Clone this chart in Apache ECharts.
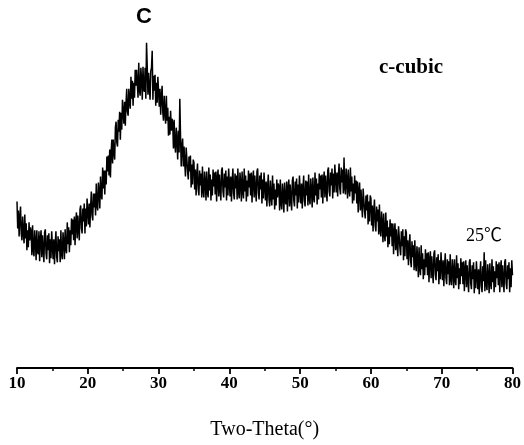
<!DOCTYPE html>
<html>
<head>
<meta charset="utf-8">
<script src="https://cdn.jsdelivr.net/npm/echarts@6/dist/echarts.min.js"></script>
<style>html,body{margin:0;padding:0;background:#fff}#c{width:524px;height:445px}</style>
</head>
<body>
<div id="c"></div>
<script>
// Two-Theta start / step (degrees) and intensity (a.u.)
var thetaStart = 10;
var thetaStep = 0.1;
var intensity = [
167,140,158,132,150,162,135,128,152,136,
125,154,130,145,118,138,121,146,128,141,
137,113,143,119,112,138,127,108,138,117,
114,137,107,129,138,111,133,118,106,136,
139,115,109,133,118,135,105,129,110,137,
135,109,129,104,124,137,112,106,132,117,
129,106,138,114,109,136,126,109,139,120,
115,146,124,141,116,138,123,150,134,149,
128,152,123,146,156,130,153,139,128,159,
163,140,135,160,147,165,135,160,142,170,
169,144,165,141,162,177,153,148,175,161,
175,153,185,163,158,186,177,160,192,173,
169,201,180,198,174,198,184,212,197,213,
193,219,191,217,229,205,229,217,209,241,
247,226,222,249,237,257,229,256,239,269,
269,245,267,243,265,280,257,253,280,267,
260,292,270,288,263,286,271,299,283,299,
298,271,306,279,273,301,289,269,302,280,
277,301,270,326,302,274,296,280,269,298,
301,318,269,293,278,294,263,286,266,292,
290,262,280,254,272,283,256,248,273,256,
245,273,248,261,233,252,234,258,238,250,
245,220,249,224,216,241,229,209,238,216,
270,233,202,223,230,202,222,205,192,221,
222,197,189,212,197,213,181,204,184,209,
206,179,199,173,193,205,179,173,198,183,
195,171,202,178,171,197,186,168,197,177,
171,201,178,194,168,189,173,199,182,196,
174,197,167,190,199,172,194,179,168,198,
201,177,171,195,181,198,168,192,173,200,
198,172,192,167,187,200,175,169,195,180,
193,169,200,176,170,196,185,167,197,177,
170,200,177,193,167,188,172,198,181,195,
173,196,166,189,198,171,193,178,167,197,
200,176,169,193,179,196,165,189,170,196,
194,168,187,162,181,194,169,162,188,172,
163,193,169,185,159,179,163,189,171,185,
182,158,189,165,159,185,174,156,186,167,
164,187,157,180,189,162,184,169,158,188,
192,168,162,187,173,190,160,184,166,193,
191,165,185,160,180,193,168,162,188,173,
187,163,194,170,164,190,179,161,191,171,
166,196,173,190,164,185,169,195,179,193,
171,194,165,188,197,171,193,178,167,198,
201,177,172,196,183,200,170,195,176,204,
202,176,196,172,192,205,180,174,201,186,
199,175,211,181,174,200,188,170,199,179,
172,201,177,192,165,185,168,193,175,188,
165,187,156,178,186,158,179,163,151,180,
182,157,150,173,158,174,144,167,147,173,
170,143,163,137,157,169,143,137,162,147,
159,134,164,139,132,157,145,126,155,134,
127,156,132,148,121,141,124,149,132,145,
122,145,114,137,145,118,139,124,112,142,
144,120,113,137,122,139,108,132,112,139,
136,109,128,103,122,134,108,101,127,111,
123,98,128,104,97,122,110,91,121,100,
93,123,99,115,89,109,93,119,101,115,
93,116,86,108,117,90,112,96,85,115,
118,94,88,111,97,114,84,108,89,116,
114,88,108,82,102,115,90,84,109,94,
107,83,114,89,83,109,98,80,109,89,
83,113,90,105,79,100,84,110,92,106,
84,107,77,99,108,81,103,88,76,106,
109,85,79,103,89,106,75,99,80,107,
105,79,99,74,94,107,82,76,102,87,
116,77,108,84,78,104,93,75,105,85,
79,109,86,102,76,97,81,107,90,104,
83,106,76,99,108,81,103,88,76,106,
109,85,79,103,89,106,76,100,81,108,
93
];
var xTicks = ['10','20','30','40','50','60','70','80'];
var peakLabel = 'C';
var phaseLabel = 'c-cubic';
var tempLabel = '25℃';
var xName = 'Two-Theta(°)';

var pts = [];
for (var i = 0; i < intensity.length; i++) {
  pts.push([+(thetaStart + i * thetaStep).toFixed(2), intensity[i]]);
}

var chart = echarts.init(document.getElementById('c'), null, {renderer: 'canvas'});
chart.setOption({
  animation: false,
  backgroundColor: '#fff',
  grid: {left: 17, right: 10, top: 0, bottom: 76},
  xAxis: {
    type: 'value',
    min: 10, max: 80, interval: 10,
    name: xName,
    nameLocation: 'middle',
    nameGap: 52,
    nameTextStyle: {color: '#000', fontSize: 20, fontFamily: '"Liberation Serif",serif'},
    axisLine: {show: true, onZero: false, lineStyle: {color: '#000', width: 1.8}},
    axisTick: {show: true, inside: false, length: 6, lineStyle: {color: '#000', width: 1.8}},
    minorTick: {show: true, splitNumber: 2, length: 3, lineStyle: {color: '#000', width: 1.5}},
    splitLine: {show: false},
    axisLabel: {
      margin: 7, color: '#000', fontSize: 17, fontWeight: 'bold',
      fontFamily: '"Liberation Serif",serif',
      formatter: function (v) { var s = String(v); return xTicks.indexOf(s) >= 0 ? s : ''; }
    }
  },
  yAxis: {type: 'value', min: 0, max: 369, show: false},
  series: [{
    type: 'line',
    data: pts,
    showSymbol: false,
    symbol: 'none',
    sampling: null,
    lineStyle: {color: '#000', width: 1.5},
    silent: true
  }],
  graphic: [
    {type: 'text', left: 136, top: 6, style: {text: peakLabel, fill: '#000', font: 'bold 22px "Liberation Sans",sans-serif'}},
    {type: 'text', left: 379, top: 57, style: {text: phaseLabel, fill: '#000', font: 'bold 21px "Liberation Serif",serif'}},
    {type: 'text', left: 466, top: 227, style: {text: tempLabel, fill: '#000', font: '18px "Liberation Serif","Noto Sans CJK SC",serif'}}
  ]
});
</script>
</body>
</html>
